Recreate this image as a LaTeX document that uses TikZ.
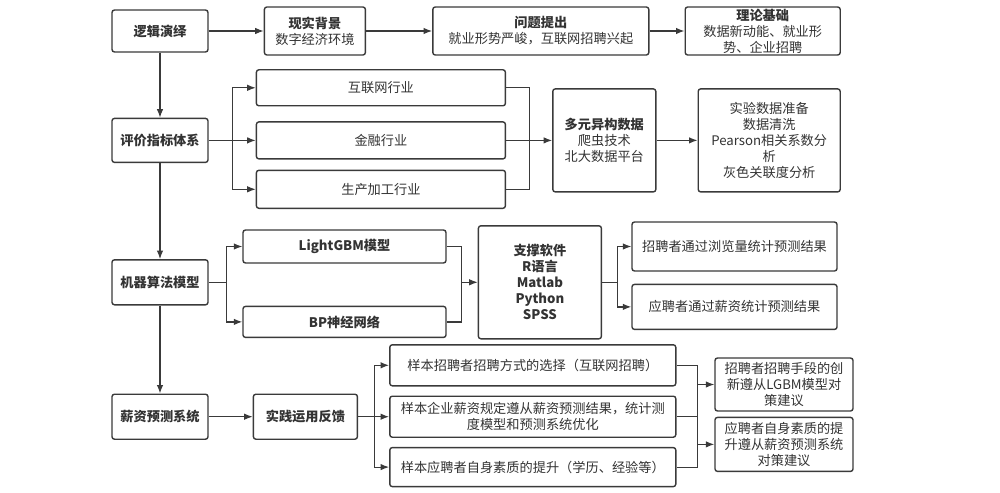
\documentclass[tikz,border=0pt]{standalone}
\usepackage{fontspec}
\setmainfont{Noto Sans CJK SC}
\usetikzlibrary{positioning,arrows.meta}
\definecolor{linegray}{HTML}{3A3A3A}
\definecolor{textgray}{HTML}{333333}

\begin{document}
\begin{tikzpicture}[x=1pt,y=1pt,
	font=\fontsize{13.2}{16}\selectfont,text=textgray,
	box/.style={draw=linegray,line width=1.4pt,rounded corners=2.5pt,
		fill=white,align=center,inner sep=0pt},
	head/.style={box,font=\fontsize{13.2}{16}\selectfont\bfseries},
	link/.style={-{Latex[length=8.5pt,width=6.5pt]},draw=linegray,line width=1.2pt},
	line/.style={draw=linegray,line width=1.2pt}]
		
		\useasboundingbox (0,0) rectangle (1000,-492);
		
		% Left column
		\node[head,
		minimum width=96,
		minimum height=42] (block1) at (160,-31) {逻辑演绎};
		
		\node[head,
		below=65pt of block1,
		minimum width=96,
		minimum height=44] (block5) {评价指标体系};
		
		\node[head,
		below=96pt of block5,
		minimum width=96,
		minimum height=45] (block11) {机器算法模型};
		
		\node[head,
		below=88pt of block11,
		minimum width=96,
		minimum height=45] (block17) {薪资预测系统};
		
		% Row 1
		\node[box,
		right=55pt of block1,
		minimum width=101,
		minimum height=48] (block2) {{\bfseries 现实背景}\\数字经济环境};
		
		\node[box,
		right=66pt of block2,
		minimum width=216,
		minimum height=48] (block3) {{\bfseries 问题提出}\\就业形势严峻，互联网招聘兴起};
		
		\node[box,
		right=35pt of block3,
		minimum width=155,
		minimum height=48] (block4) {{\bfseries 理论基础}\\数据新动能、就业形\\势、企业招聘};
		
		% Row 2
		\node[box,
		right=47pt of block5,
		minimum width=249,
		minimum height=37] (block6) {金融行业};
		
		\node[box,
		above=14.7pt of block6,
		minimum width=249,
		minimum height=36] (block7) {互联网行业};
		
		\node[box,
		below=10pt of block6,
		minimum width=249,
		minimum height=38] (block8) {生产加工行业};
		
		\node[box,
		right=46pt of block6,
		minimum width=103,
		minimum height=103] (block9) {{\bfseries 多元异构数据}\\爬虫技术\\北大数据平台};
		
		\node[box,
		right=41pt of block9,
		minimum width=142,
		minimum height=103] (block10) {实验数据准备\\数据清洗\\Pearson相关系数分\\析\\灰色关联度分析};
		
		% Row 3
		\node[head,
		minimum width=203,
		minimum height=33] (block13) at (344.5,-246.5) {LightGBM模型};
		
		\node[head,
		below=42pt of block13,
		minimum width=203,
		minimum height=31] (block14) {BP神经网络};
		
		\node[head,
		right=269pt of block11,
		minimum width=123,
		minimum height=113] (block12) {支撑软件\\R语言\\Matlab\\Python\\SPSS};
		
		\node[box,
		minimum width=205,
		minimum height=49] (block15) at (734.5,-246.5) {招聘者通过浏览量统计预测结果};
		
		\node[box,
		below=12pt of block15,
		minimum width=205,
		minimum height=45] (block16) {应聘者通过薪资统计预测结果};
		
		% Row 4
		\node[head,
		right=44pt of block17,
		minimum width=104,
		minimum height=45] (block18) {实践运用反馈};
		
		\node[box,
		right=31pt of block18,
		minimum width=286,
		minimum height=41] (block19) {样本企业薪资规定遵从薪资预测结果，统计测\\度模型和预测系统优化};
		
		\node[box,
		above=9pt of block19,
		minimum width=286,
		minimum height=41] (block20) {样本招聘者招聘方式的选择（互联网招聘）};
		
		\node[box,
		below=9pt of block19,
		minimum width=286,
		minimum height=39] (block21) {样本应聘者自身素质的提升（学历、经验等）};
		
		\node[box,
		minimum width=138,
		minimum height=53] (block22) at (784,-384.5) {招聘者招聘手段的创\\新遵从LGBM模型对\\策建议};
		
		\node[box,
		below=5pt of block22,
		minimum width=138,
		minimum height=54] (block23) {应聘者自身素质的提\\升遵从薪资预测系统\\对策建议};
		
		% Branch points
		\coordinate[right=24pt of block5] (split1);
		\coordinate[right=23pt of block6] (join1);
		\coordinate[right=18pt of block11] (split2);
		\coordinate[left=16pt of block12] (join2);
		\coordinate[right=15pt of block12] (split3);
		\coordinate[right=16pt of block18] (split4);
		\coordinate[right=21pt of block19] (join3);
		
		% Arrows
		\draw[link] (block1) -- (block2);
		\draw[link] (block2) -- (block3);
		\draw[link] (block3) -- (block4);
		
		\draw[link] (block1) -- (block5);
		\draw[link] (block5) -- (block11);
		\draw[link] (block11) -- (block17);
		
		\draw[line] (block5) -- (split1);
		\draw[link] (split1) |- (block7);
		\draw[link] (split1) -- (block6);
		\draw[link] (split1) |- (block8);
		\draw[line] (block7) -| (join1) |- (block8);
		\draw[line] (block6) -- (join1);
		\draw[link] (join1) -- (block9);
		\draw[link] (block9) -- (block10);
		
		\draw[line] (block11) -- (split2);
		\draw[link] (split2) |- (block13);
		\draw[link] (split2) |- (block14);
		\draw[line] (block13) -| (join2) |- (block14);
		\draw[link] (join2) -- (block12);
		\draw[line] (block12) -- (split3);
		\draw[link] (split3) |- (block15);
		\draw[link] (split3) |- (block16);
		
		\draw[link] (block17) -- (block18);
		\draw[line] (block18) -- (split4);
		\draw[link] (split4) |- (block20);
		\draw[link] (split4) -- (block19);
		\draw[link] (split4) |- (block21);
		\draw[line] (block20) -| (join3) |- (block21);
		\draw[line] (block19) -- (join3);
		\draw[link] (join3 |- block22) -- (block22);
		\draw[link] (join3 |- block23) -- (block23);
		
\end{tikzpicture}
\end{document}
